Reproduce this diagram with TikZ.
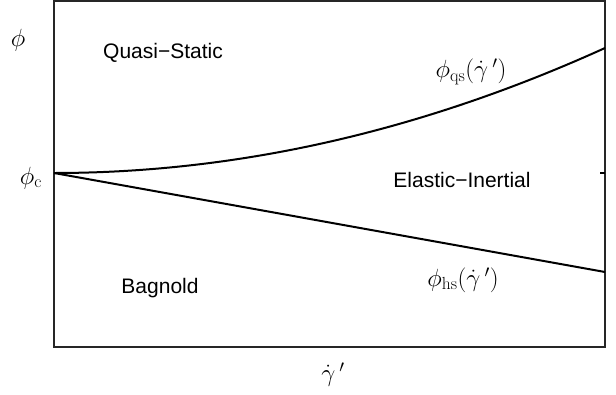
\documentclass[tikz,border=0pt]{standalone}
\usepackage{fontspec}
\newfontfamily\helv{Liberation Sans}
\begin{document}
\begin{tikzpicture}[x=1pt,y=-1pt,
  region/.style={font=\helv\fontsize{21}{24}\selectfont},
  mlabel/.style={font=\fontsize{25}{28}\selectfont}]
\useasboundingbox (0,0) rectangle (616,394);
\draw[line width=1.4pt, black!85] (54,1) rectangle (605,347);
\draw[line width=1.2pt] (600,173) -- (605,173);
\coordinate (c) at (54,173);
\coordinate (qsend) at (605,48);
\coordinate (hsend) at (605,272);

% parabola from the critical point
\draw[line width=2pt] (c) .. controls (237.7,173) and (421.3,131.3) .. (qsend);
\draw[line width=2pt] (c) -- (hsend);

\node[mlabel] (phi) at (18,40) {$\phi$};
\node[mlabel] (phic) at (31,178) {$\phi_{\mathrm{c}}$};
\node[mlabel] (gam) at (333,375) {$\dot\gamma\,'$};
\node[mlabel] (qs) at (471,72) {$\phi_{\mathrm{qs}}(\dot\gamma\,')$};
\node[mlabel] (hs) at (463,280) {$\phi_{\mathrm{hs}}(\dot\gamma\,')$};

\node[region] (quasi) at (163,53) {Quasi−Static};
\node[region] (elastic) at (462,180) {Elastic−Inertial};
\node[region] (bagnold) at (160,288) {Bagnold};
\end{tikzpicture}
\end{document}
